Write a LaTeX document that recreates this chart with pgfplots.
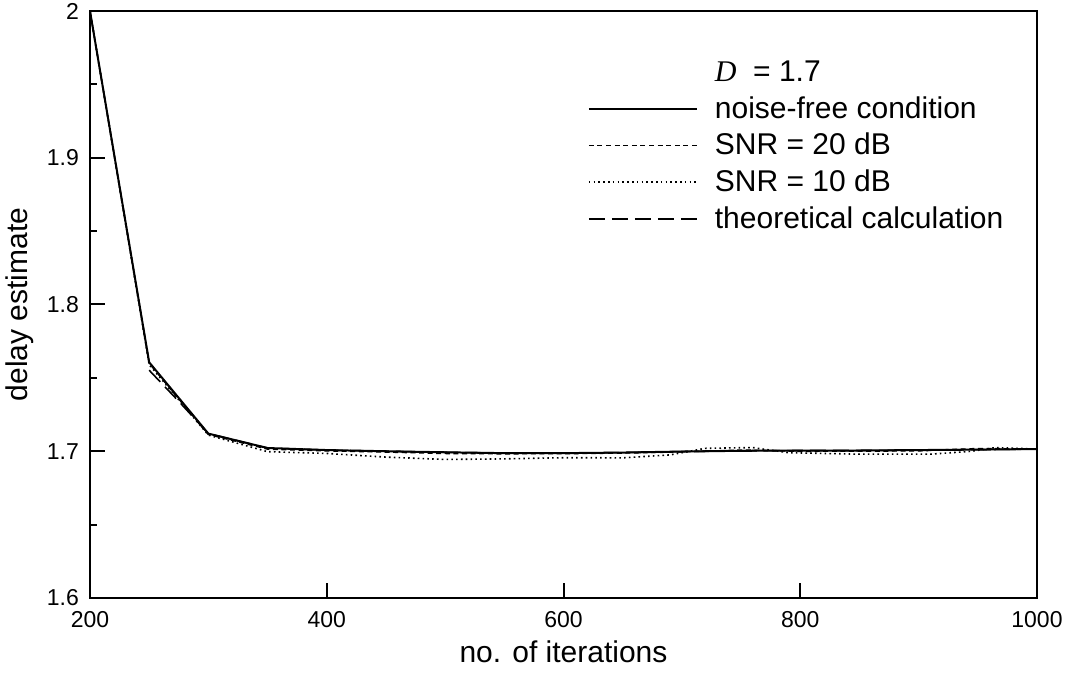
\documentclass[border=0pt]{standalone}
\usepackage{fontspec}
\setmainfont{Liberation Sans}
\newfontfamily\seriffont{Liberation Serif}
\usepackage{pgfplots}
\pgfplotsset{compat=1.18}

\pgfplotstableread{
x y
200 2.000
250 1.7606
300 1.7120
350 1.7022
400 1.7008
450 1.7000
500 1.6993
550 1.6987
600 1.6987
650 1.6991
700 1.6998
750 1.7003
800 1.7005
850 1.7005
900 1.7008
950 1.7011
1000 1.7015
}\noisefree

\pgfplotstableread{
x y
200 2.000
250 1.7600
300 1.7115
350 1.7015
400 1.7003
450 1.6995
500 1.6985
550 1.6983
600 1.6984
650 1.6988
700 1.6996
750 1.7008
800 1.7000
850 1.7001
900 1.7003
950 1.7018
1000 1.7015
}\snrtwenty

\pgfplotstableread{
x y
200 2.000
250 1.7590
300 1.7110
350 1.6997
400 1.6985
450 1.6960
500 1.6944
550 1.6948
600 1.6956
650 1.6955
690 1.6975
720 1.7020
760 1.7025
790 1.6990
850 1.6980
910 1.6980
945 1.7000
965 1.7025
1000 1.7015
}\snrten

\pgfplotstableread{
x y
250 1.7552
275 1.7340
300 1.7120
350 1.7022
400 1.7008
450 1.7000
500 1.6993
550 1.6987
600 1.6987
650 1.6991
700 1.6998
750 1.7003
800 1.7005
850 1.7005
900 1.7008
950 1.7011
1000 1.7015
}\theory

\begin{document}
\begin{tikzpicture}
\begin{axis}[
  scale only axis, width=473.5pt, height=293.5pt,
  xmin=200, xmax=1000, ymin=1.6, ymax=2.0,
  axis line style={line width=1.2pt},
  xtick={200,400,600,800,1000},
  ytick={1.6,1.7,1.8,1.9,2.0},
  minor ytick={1.65,1.75,1.85,1.95},
  tick align=inside, xtick pos=left, ytick pos=left,
  major tick length=7.5pt, minor tick length=3.5pt,
  every tick/.style={black, line width=1pt},
  tick label style={font=\fontsize{11.5}{13}\selectfont},
  xticklabel style={yshift=-3pt},
  yticklabel style={xshift=-2pt},
  /pgf/number format/assume math mode=true,
  xticklabel style={/pgf/number format/set thousands separator={}},
  xlabel={no. of iterations}, ylabel={delay estimate},
  label style={font=\fontsize{15}{18}\selectfont},
  legend image code/.code={\draw[#1] (0pt,0pt) -- (54pt,0pt); \path (61pt,0pt);},
  legend style={at={(0.519,0.928)}, anchor=north west, draw=none, fill=none,
    font=\fontsize{15}{18}\selectfont, row sep=3pt,
    nodes={inner sep=1.5pt}},
  legend cell align=left,
]
\addlegendimage{empty legend}
\addplot[black, line width=1pt] table {\noisefree};
\addplot[black, line width=0.8pt, dash pattern=on 2.5pt off 1.8pt] table {\snrtwenty};
\addplot[black, line width=0.8pt, dash pattern=on 0.8pt off 1.6pt] table {\snrten};
\addplot[black, line width=0.8pt, dash pattern=on 8pt off 3.5pt] table {\theory};
\legend{{\seriffont\itshape D}\ \ = 1.7, noise-free condition, SNR = 20 dB, SNR = 10 dB, theoretical calculation}
\end{axis}
\pgfresetboundingbox
\path ([shift={(-45pt,-38pt)}]current axis.south west) rectangle ([shift={(15pt,5.5pt)}]current axis.north east);
\end{tikzpicture}
\end{document}
